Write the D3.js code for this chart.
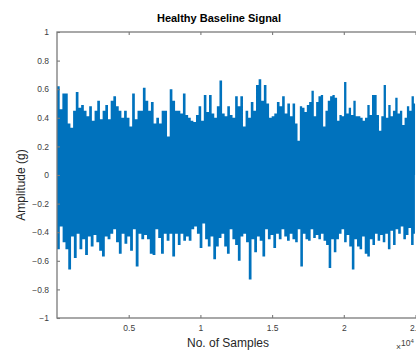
<!DOCTYPE html>
<html>
<head>
<meta charset="utf-8">
<script src="https://cdn.jsdelivr.net/npm/d3@7"></script>
<style>
  body { margin: 0; background: #fff; }
  svg { display: block; font-family: "Liberation Sans", Arial, sans-serif; }
</style>
</head>
<body>
<div id="chart"></div>
<script>
// envelope of the signal in three stretches of samples
var segmentBounds = [0, 8235, 16610, 25050];

var upperA = [0.62,0.46,0.57,0.57,0.36,0.33,0.45,0.58,0.47,0.49,0.45,0.41,0.48,0.38,0.45,0.52,0.39,0.45,0.49,0.39,0.52,0.55,
              0.48,0.45,0.40,0.45,0.40,0.34,0.57,0.39,0.45,0.45,0.61,0.52,0.45,0.51,0.36,0.40,0.36,0.45,0.45,0.27,0.60,0.52];
var upperB = [0.45,0.45,0.43,0.57,0.42,0.40,0.38,0.37,0.42,0.48,0.38,0.56,0.44,0.56,0.43,0.40,0.48,0.66,0.43,0.41,0.48,0.42,0.40,
              0.55,0.48,0.55,0.34,0.45,0.40,0.51,0.45,0.63,0.67,0.52,0.63,0.50,0.40,0.41,0.43,0.51,0.48,0.55,0.43,0.50,0.41,0.50];
var upperC = [0.36,0.24,0.48,0.47,0.44,0.49,0.51,0.59,0.41,0.51,0.55,0.56,0.34,0.45,0.52,0.55,0.56,0.54,0.38,0.42,0.41,0.65,0.43,0.47,0.42,0.52,
              0.41,0.41,0.40,0.38,0.40,0.49,0.42,0.56,0.56,0.42,0.31,0.41,0.63,0.40,0.49,0.41,0.45,0.54,0.43,0.45,0.35,0.40,0.48,0.45,0.55,0.50];

var lowerA = [-0.52,-0.36,-0.47,-0.52,-0.66,-0.43,-0.58,-0.41,-0.52,-0.45,-0.56,-0.43,-0.50,-0.42,-0.47,-0.53,-0.57,-0.43,-0.45,-0.41,-0.38,
              -0.47,-0.55,-0.41,-0.48,-0.43,-0.53,-0.38,-0.64,-0.41,-0.45,-0.42,-0.45,-0.55,-0.56,-0.38,-0.44,-0.55,-0.41,-0.46,-0.41,-0.57];
var lowerB = [-0.41,-0.49,-0.41,-0.46,-0.43,-0.46,-0.38,-0.36,-0.41,-0.51,-0.34,-0.45,-0.50,-0.43,-0.59,-0.50,-0.44,-0.41,-0.50,-0.55,-0.38,-0.45,
              -0.49,-0.60,-0.43,-0.41,-0.47,-0.73,-0.45,-0.54,-0.43,-0.46,-0.57,-0.38,-0.45,-0.42,-0.51,-0.41,-0.45,-0.38,-0.43,-0.46,-0.41,-0.45];
var lowerC = [-0.47,-0.38,-0.64,-0.41,-0.45,-0.46,-0.38,-0.44,-0.42,-0.45,-0.41,-0.46,-0.49,-0.65,-0.45,-0.54,-0.45,-0.41,-0.38,-0.47,-0.42,-0.50,-0.66,
              -0.45,-0.50,-0.52,-0.43,-0.55,-0.57,-0.45,-0.49,-0.41,-0.46,-0.42,-0.47,-0.41,-0.52,-0.39,-0.49,-0.38,-0.41,-0.36,-0.45,-0.42,-0.37,-0.49,-0.41];

var xTicks = [5000, 10000, 15000, 20000, 25000, 30000];
var yTicks = [-1, -0.8, -0.6, -0.4, -0.2, 0, 0.2, 0.4, 0.6, 0.8, 1];

var width = 416;
var height = 351;
var padding = {top: 32, bottom: 33, left: 57};

var axisColour = "#7a7a7a";
var textColour = "#404040";

function toPoints(values, segment) {
    var start = segmentBounds[segment];
    var span = segmentBounds[segment + 1] - start;
    return values.map(function(v, i){
        return {x: start + (i + 0.5) / values.length * span, y: v};
    });
}

var upper = toPoints(upperA, 0).concat(toPoints(upperB, 1), toPoints(upperC, 2));
var lower = toPoints(lowerA, 0).concat(toPoints(lowerB, 1), toPoints(lowerC, 2));

// axis runs past the right edge of the picture
var x_scale = d3.scaleLinear()
    .domain([0, 30000])
    .range([padding.left, padding.left + 6 * 71.7]);

var y_scale = d3.scaleLinear()
    .domain([-1, 1])
    .range([height - padding.bottom, padding.top]);

var svg = d3.select("#chart")
    .append("svg")
    .attr("width", width)
    .attr("height", height);

var plotRight = x_scale.range()[1];

// signal: upper and lower half drawn from zero out to the envelope
var area = d3.area()
    .x(function(d){ return x_scale(d.x); })
    .y0(y_scale(0))
    .y1(function(d){ return y_scale(d.y); })
    .curve(d3.curveStep);

svg.append("path")
    .datum([{x: 0, y: upper[0].y}].concat(upper))
    .attr("fill", "#0072BD")
    .attr("d", area);

svg.append("path")
    .datum([{x: 0, y: lower[0].y}].concat(lower))
    .attr("fill", "#0072BD")
    .attr("d", area);

// box
svg.append("rect")
    .attr("x", padding.left)
    .attr("y", y_scale(1))
    .attr("width", plotRight - padding.left)
    .attr("height", y_scale(-1) - y_scale(1))
    .attr("fill", "none")
    .attr("stroke", axisColour)
    .attr("stroke-width", 1.3);

var x_axis = d3.axisBottom(x_scale)
    .tickValues(xTicks)
    .tickSizeInner(-3)
    .tickSizeOuter(0)
    .tickPadding(7)
    .tickFormat(function(d){ return d3.format("")(d / 10000); });

var top_axis = d3.axisTop(x_scale)
    .tickValues(xTicks)
    .tickSizeInner(-3)
    .tickSizeOuter(0)
    .tickFormat("");

var y_axis = d3.axisLeft(y_scale)
    .tickValues(yTicks)
    .tickSizeInner(-3)
    .tickSizeOuter(0)
    .tickPadding(8)
    .tickFormat(d3.format(""));

function styleAxis(g) {
    g.select(".domain").remove();
    g.selectAll(".tick line").attr("stroke", axisColour).attr("stroke-width", 1.1);
    g.selectAll(".tick text")
        .attr("fill", textColour)
        .attr("font-size", "8.5px")
        .attr("font-family", "Liberation Sans, Arial, sans-serif");
}

svg.append("g")
    .attr("transform", "translate(0," + y_scale(-1) + ")")
    .call(x_axis)
    .call(styleAxis);

svg.append("g")
    .attr("transform", "translate(0," + y_scale(1) + ")")
    .call(top_axis)
    .call(styleAxis);

svg.append("g")
    .attr("transform", "translate(" + padding.left + ",0)")
    .call(y_axis)
    .call(styleAxis);

svg.append("text")
    .attr("x", 219)
    .attr("y", 22)
    .attr("text-anchor", "middle")
    .attr("font-size", "11px")
    .attr("font-weight", "bold")
    .attr("fill", "#000")
    .text("Healthy Baseline Signal");

svg.append("text")
    .attr("x", 228)
    .attr("y", 347)
    .attr("text-anchor", "middle")
    .attr("font-size", "12px")
    .attr("fill", "#262626")
    .text("No. of Samples");

svg.append("text")
    .attr("transform", "translate(24.5,185) rotate(-90)")
    .attr("text-anchor", "middle")
    .attr("font-size", "12px")
    .attr("fill", "#262626")
    .text("Amplitude (g)");

var exponent = svg.append("text")
    .attr("x", 396)
    .attr("y", 350)
    .attr("font-size", "8.5px")
    .attr("fill", textColour);
exponent.append("tspan").text("\u00d7");
exponent.append("tspan").attr("dy", -4).text("10");
exponent.append("tspan").attr("dy", -3).attr("font-size", "6px").text("4");
</script>
</body>
</html>
